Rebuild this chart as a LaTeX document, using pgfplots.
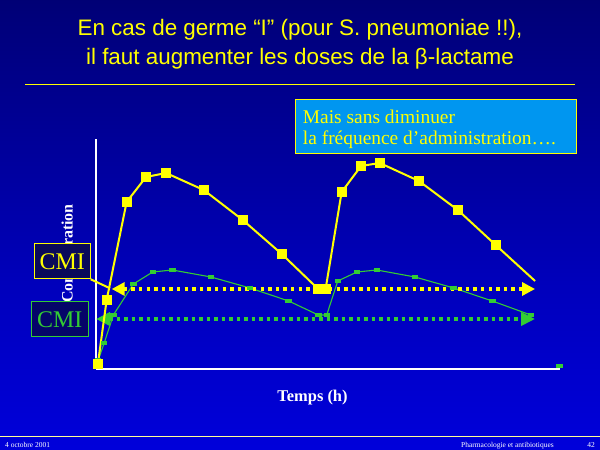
\documentclass[border=0pt]{standalone}
\usepackage{pgfplots}
\pgfplotsset{compat=1.18}
\usepackage{fontspec}
\setmainfont{Liberation Serif}
\newfontfamily\titlefont{Liberation Sans}
\usetikzlibrary{arrows.meta}

\definecolor{cmiyellow}{RGB}{255,255,0}
\definecolor{cmigreen}{RGB}{51,204,51}
\definecolor{boxblue}{RGB}{0,150,240}
\definecolor{boxnavy}{RGB}{10,10,90}
\definecolor{boxnavyb}{RGB}{5,5,105}
\definecolor{footline}{RGB}{255,255,150}
\definecolor{bgA}{RGB}{0,0,240}
\definecolor{bgB}{RGB}{0,0,234}
\definecolor{bgC}{RGB}{0,0,190}
\definecolor{bgD}{RGB}{0,0,122}
\definecolor{bgE}{RGB}{0,0,48}

% slide background: dark navy at the top, bright blue at the bottom
\pgfdeclareverticalshading{slidebg}{100bp}{%
  color(0bp)=(bgA); color(15.6bp)=(bgB); color(42.2bp)=(bgC);
  color(73.3bp)=(bgD); color(100bp)=(bgE)}

\begin{document}
\begin{tikzpicture}[x=1bp,y=1bp]
\useasboundingbox (0,0) rectangle (600,450);
\shade[shading=slidebg] (0,0) rectangle (600,450);

% title
\node[anchor=base, text=cmiyellow, inner sep=0,
      font=\titlefont\fontsize{22.5}{27}\selectfont] at (300,414)
      {En cas de germe “I” (pour S. pneumoniae !!),};
\node[anchor=base, text=cmiyellow, inner sep=0,
      font=\titlefont\fontsize{22.5}{27}\selectfont] at (300,385)
      {il faut augmenter les doses de la β-lactame};
\draw[cmiyellow, line width=1bp] (25,365) -- (575,365);

% footer
\draw[footline, line width=1bp] (0,13) -- (600,13);
\node[anchor=base west, text=white, inner sep=0,
      font=\fontsize{7.5}{9}\selectfont] at (5,2) {4 octobre 2001};
\node[anchor=base west, text=white, inner sep=0,
      font=\fontsize{7.5}{9}\selectfont] at (461,2) {Pharmacologie et antibiotiques};
\node[anchor=base east, text=white, inner sep=0,
      font=\fontsize{7.5}{9}\selectfont] at (595,2) {42};

% vertical axis title (partly hidden by the CMI labels)
\node[rotate=90, anchor=base, text=white, inner sep=0,
      font=\bfseries\fontsize{16}{19}\selectfont] at (72.5,196.5) {Concentration};

\begin{axis}[
  at={(96bp,81bp)}, anchor=south west,
  scale only axis, width=464bp, height=230bp,
  xmin=0, xmax=24.857, ymin=0, ymax=230,
  axis lines=left,
  axis line style={white, line width=1.1bp, -},
  xtick=\empty, ytick=\empty,
  clip=false,
]
% low dose: concentration curve
\addplot[cmigreen, line width=1.1bp, mark=square*, mark size=1.4bp,
         mark options={xscale=1.9, solid}]
  coordinates {
    (0.12,9) (0.44,26) (0.93,54) (2.00,85) (3.04,97) (4.09,99)
    (6.16,92) (8.25,81) (10.32,68) (11.91,54) (12.36,54)
    (12.95,88) (13.98,97) (15.04,99) (17.09,92) (19.16,81)
    (21.23,68) (23.29,54)
  };
\addplot[cmigreen, only marks, mark=square*, mark size=1.4bp,
         mark options={xscale=2.1}]
  coordinates {(24.80,3.5)};
% low-level MIC
\addplot[cmigreen, line width=3.6bp, dash pattern=on 3.6bp off 3.9bp,
         {Triangle[length=14bp,width=13bp]}-{Triangle[length=14bp,width=13bp]}]
  coordinates {(0.0,50) (23.52,50)};
% high-level MIC
\addplot[cmiyellow, line width=3.6bp, dash pattern=on 3.4bp off 4.2bp,
         {Triangle[length=13bp,width=13bp]}-{Triangle[length=13bp,width=13bp]}]
  coordinates {(0.84,80) (23.52,80)};
% increased dose: concentration curve
\addplot[cmiyellow, line width=2bp, mark=square*, mark size=4bp,
         mark options={solid},
         mark indices={1,2,3,4,5,6,7,8,9,10,11,12,13,14,15,16}]
  coordinates {
    (0.10,5) (0.57,69) (1.64,167) (2.68,192) (3.75,196) (5.77,179)
    (7.86,149) (9.95,115) (11.90,80) (12.30,80) (13.16,177)
    (14.20,203) (15.20,206) (17.30,188) (19.38,159) (21.41,124)
    (23.52,88)
  };
\end{axis}

% horizontal axis title
\node[anchor=base, text=white, inner sep=0,
      font=\bfseries\fontsize{16.5}{19}\selectfont] at (312.5,48.3) {Temps (h)};

% MIC labels
\draw[cmiyellow, line width=2bp] (90.7,170.7) -- (110,161.7);
\draw[cmiyellow, fill=boxnavy, line width=1bp] (34,171.3) rectangle (90.7,206);
\node[text=cmiyellow, inner sep=0, font=\fontsize{24}{28}\selectfont]
  at (62.3,188.6) {CMI};
\draw[cmigreen, fill=boxnavyb, line width=1bp] (31.3,113.3) rectangle (88,148);
\node[text=cmigreen, inner sep=0, font=\fontsize{24}{28}\selectfont]
  at (59.7,130.7) {CMI};

% note box
\draw[cmiyellow, fill=boxblue, line width=1bp] (295,296) rectangle (576.7,350);
\node[anchor=base west, text=cmiyellow, inner sep=0,
      font=\fontsize{19.5}{23}\selectfont] at (302.7,326.7) {Mais sans diminuer};
\node[anchor=base west, text=cmiyellow, inner sep=0,
      font=\fontsize{19.5}{23}\selectfont] at (302.7,305)
      {la fréquence d’administration….};
\end{tikzpicture}
\end{document}
